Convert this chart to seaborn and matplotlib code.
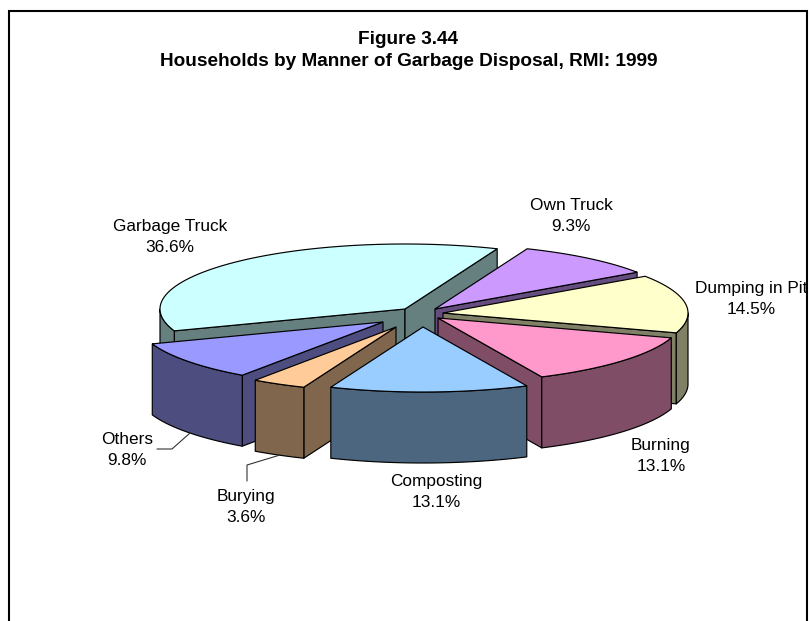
import numpy as np
import matplotlib
matplotlib.use("Agg")
import matplotlib.pyplot as plt
import seaborn as sns

# Data, in clockwise order
categories = ["Own Truck", "Dumping in Pit", "Burning", "Composting", "Burying", "Others", "Garbage Truck"]
values = [9.3, 14.5, 13.1, 13.1, 3.6, 9.8, 36.6]
value_labels = ["9.3%", "14.5%", "13.1%", "13.1%", "3.6%", "9.8%", "36.6%"]

# Explode offset of each slice
explode_x = [21, 29, 24, 9, -18, -31, -9]
explode_y = [-8, -4, 1, 10, 10, 5, -8]

# Label anchors
label_x = [571, 751, 661, 436, 246, 127, 170]
label_y = [216, 299, 456, 492, 507, 450, 237]

top_hex = ["#CC99FF", "#FFFFCC", "#FF99CC", "#99CCFF", "#FFCC99", "#9999FF", "#CCFFFF"]

title_lines = ["Figure 3.44", "Households by Manner of Garbage Disposal, RMI: 1999"]

# Pie geometry
START_DEG = 67.9
CX, CY = 414, 317
RX, RY, DEPTH = 245, 65, 71
EDGE = "black"
LW = 0.85

sns.set_theme(style="white")
plt.rcParams["font.family"] = ["Liberation Sans", "DejaVu Sans"]

top_colors = sns.color_palette(top_hex)
side_colors = [tuple(c * 0.5 for c in col) for col in top_colors]

fig, ax = plt.subplots(figsize=(8.12, 6.21), dpi=100)
fig.subplots_adjust(0, 0, 1, 1)
ax.set_xlim(0, 812)
ax.set_ylim(621, 0)
ax.set_axis_off()


def rim(ax0, ay0, t_deg):
    t = np.radians(t_deg)
    return ax0 + RX * np.cos(t), ay0 - RY * np.sin(t)


# Slice angles from the values (t decreases clockwise)
shares = np.array(values) / np.sum(values) * 360.0
starts = START_DEG - np.concatenate([[0], np.cumsum(shares)[:-1]])
ends = starts - shares


def draw_slice(i):
    t0, t1 = starts[i], ends[i]
    px, py = CX + explode_x[i], CY + explode_y[i]
    top, side = top_colors[i], side_colors[i]
    kw = dict(facecolor=side, edgecolor=EDGE, linewidth=LW, joinstyle="round")

    # radial walls facing the viewer
    for t, visible in ((t0, np.cos(np.radians(t0)) < 0), (t1, np.cos(np.radians(t1)) > 0)):
        if visible:
            rx_, ry_ = rim(px, py, t)
            ax.fill([px, rx_, rx_, px], [py, ry_, ry_ + DEPTH, py + DEPTH], **kw)

    # outer wall: the part of the rim in the front half
    for a, b in ((-180, 0), (-540, -360)):
        lo, hi = max(t1, a), min(t0, b)
        if hi > lo:
            ts = np.linspace(hi, lo, 80)
            xs, ys = rim(px, py, ts)
            ax.fill(np.r_[xs, xs[::-1]], np.r_[ys, ys[::-1] + DEPTH], **kw)

    # top face
    ts = np.linspace(t0, t1, 160)
    xs, ys = rim(px, py, ts)
    ax.fill(np.r_[px, xs], np.r_[py, ys], facecolor=top, edgecolor=EDGE, linewidth=LW)


# Painter's order: back to front
for i in [6, 0, 1, 2, 5, 4, 3]:
    draw_slice(i)

# Leader lines
ax.plot([190, 172, 157], [433, 449, 449], color="#333333", lw=0.8)
ax.plot([280, 247, 247], [455, 465, 481], color="#333333", lw=0.8)

# Labels
for name, val, x, y in zip(categories, value_labels, label_x, label_y):
    ax.text(x, y, f"{name}\n{val}", ha="center", va="center", fontsize=12.4,
            color="black", linespacing=1.42)

# Title
ax.text(408.5, 40, title_lines[0], ha="center", va="center", fontsize=13.7, fontweight="bold", color="black")
ax.text(408.5, 62, title_lines[1], ha="center", va="center", fontsize=13.7, fontweight="bold", color="black")

# Frame, open at the bottom
ax.plot([9, 9, 807, 807], [621, 11, 11, 621], color="black", lw=1.5, solid_joinstyle="miter")

fig.savefig("out.png", dpi=100)
